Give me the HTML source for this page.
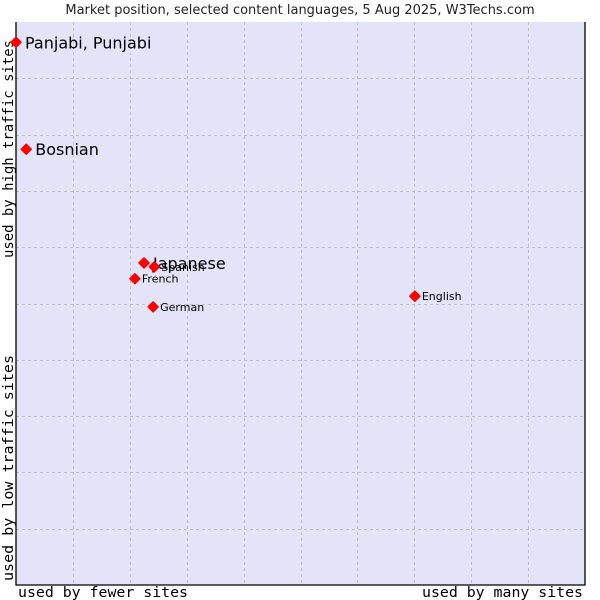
<!DOCTYPE html>
<html><head><meta charset="utf-8"><style>
body{margin:0;background:#fff;width:600px;height:600px;overflow:hidden}
svg{display:block}
</style></head><body>
<svg id="chart" width="600" height="600" xmlns="http://www.w3.org/2000/svg">
<text x="300" y="14" text-anchor="middle" font-family="DejaVu Sans, sans-serif" font-size="13" fill="#222">Market position, selected content languages, 5 Aug 2025, W3Techs.com</text>
<rect x="16" y="22" width="569" height="563" fill="#e3e4f7" stroke="none"/>
<g id="grid"></g>
<path d="M16 22V585H585V22" fill="none" stroke="#000" stroke-width="1.3"/>
<text x="18" y="597" textLength="170" lengthAdjust="spacingAndGlyphs" font-family="DejaVu Sans Mono, Liberation Mono, monospace" font-size="14" fill="#000">used by fewer sites</text>
<text x="422" y="597" textLength="161" lengthAdjust="spacingAndGlyphs" font-family="DejaVu Sans Mono, Liberation Mono, monospace" font-size="14" fill="#000">used by many sites</text>
<text transform="translate(13,581) rotate(-90)" textLength="226" lengthAdjust="spacingAndGlyphs" font-family="DejaVu Sans Mono, Liberation Mono, monospace" font-size="14" fill="#000">used by low traffic sites</text>
<text transform="translate(13,258) rotate(-90)" textLength="218" lengthAdjust="spacingAndGlyphs" font-family="DejaVu Sans Mono, Liberation Mono, monospace" font-size="14" fill="#000">used by high traffic sites</text>
<g id="points"></g>
</svg>
<script>
const languages = ["Panjabi, Punjabi","Bosnian","Japanese","Spanish","French","German","English"];
const siteUsage = [0, 1.8, 22.5, 24.3, 20.9, 24.1, 70.1];
const trafficScore = [96.4, 77.4, 57.2, 56.5, 54.4, 49.4, 51.3];
const highlighted = [true, true, true, false, false, false, false];
const NS = "http://www.w3.org/2000/svg";
const L=16,T=22,W=569,H=563;
const xs = v => L + v/100*W;
const ys = v => T + H - v/100*H;
const grid = document.getElementById('grid');
for (let i=1;i<10;i++){
  const gx = document.createElementNS(NS,'line');
  const x = Math.round(L+W*i/10)+0.5;
  gx.setAttribute('x1',x);gx.setAttribute('x2',x);gx.setAttribute('y1',T);gx.setAttribute('y2',T+H);
  gx.setAttribute('stroke','#c0c0c0');gx.setAttribute('stroke-dasharray','3,3');
  
  
  grid.appendChild(gx);
  const gy = document.createElementNS(NS,'line');
  const y = Math.round(T+H*i/10)+0.5;
  gy.setAttribute('y1',y);gy.setAttribute('y2',y);gy.setAttribute('x1',L);gy.setAttribute('x2',L+W);
  gy.setAttribute('stroke','#c0c0c0');gy.setAttribute('stroke-dasharray','3,3');
  
  
  grid.appendChild(gy);
}
const pts = document.getElementById('points');
languages.forEach((name,i)=>{
  const x = xs(siteUsage[i]), y = ys(trafficScore[i]);
  const m = document.createElementNS(NS,'path');
  m.setAttribute('d',`M${x} ${y-5}L${x+5} ${y}L${x} ${y+5}L${x-5} ${y}Z`);
  m.setAttribute('fill','#ff0000');
  m.setAttribute('stroke','#ff0000');
  m.setAttribute('stroke-width','1.5');
  m.setAttribute('stroke-linejoin','round');
  
  
  pts.appendChild(m);
  const t = document.createElementNS(NS,'text');
  const big = highlighted[i];
  t.setAttribute('x', x + (big?9:7));
  t.setAttribute('y', y + (big?6:4));
  t.setAttribute('font-family','DejaVu Sans, sans-serif');
  t.setAttribute('font-size', big?16:11);
  t.setAttribute('fill','#000');
  t.textContent = name;
  
  
  pts.appendChild(t);
});
</script>
</body></html>
